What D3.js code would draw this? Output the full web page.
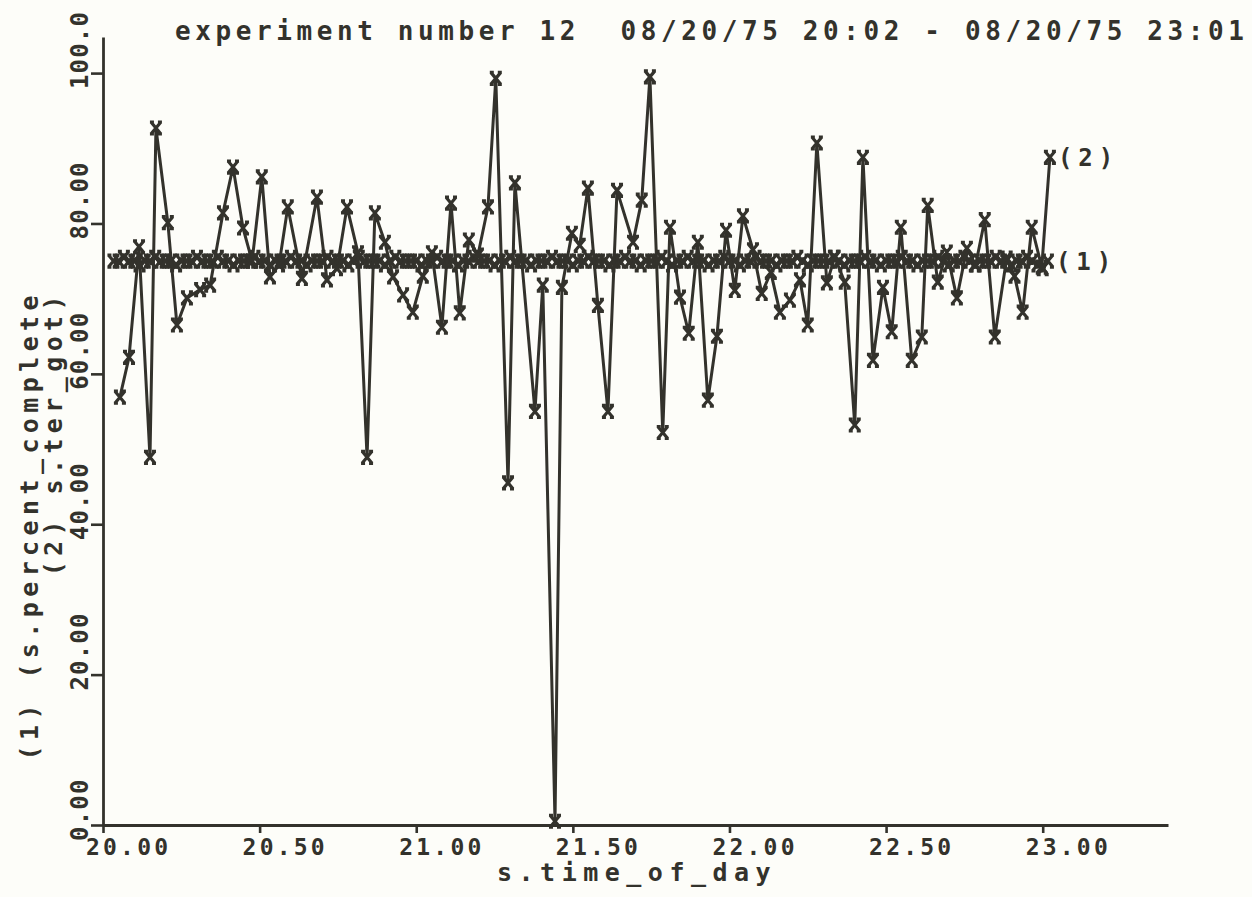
<!DOCTYPE html>
<html>
<head>
<meta charset="utf-8">
<script src="https://cdn.jsdelivr.net/npm/d3@7"></script>
<style>
    html, body { margin: 0; padding: 0; background: #fdfdf9; }
    svg { display: block; }
    text { font-family: "DejaVu Sans Mono", "Liberation Mono", monospace; font-weight: bold; fill: #33322c; white-space: pre; }
</style>
</head>
<body>
<div id="graph"></div>
<script>
!(function(){
    "use strict"

    var width = 1252;
    var height = 897;
    var ink = "#33322c";

    var titleText = "experiment number 12  08/20/75 20:02 - 08/20/75 23:01";
    var xTitle = "s.time_of_day";
    var yTitle1 = "(1) (s.percent_complete";
    var yTitle2 = "(2) s.ter_got)";

    var xTicks = [20, 20.5, 21, 21.5, 22, 22.5, 23];
    var xTickLabels = ["20.00", "20.50", "21.00", "21.50", "22.00", "22.50", "23.00"];
    var yTicks = [0, 20, 40, 60, 80, 100];
    var yTickLabels = ["0.00", "20.00", "40.00", "60.00", "80.00", "100.0"];

    // series 1: s.percent_complete, one reading a minute from 20:02 to 23:01
    var s1Start = 20 + 2 / 60;
    var s1Values = [
        75, 75, 75.5, 75, 75, 74.5, 75, 75, 75.5, 75,
        75, 75, 74.5, 75, 75, 75, 75.5, 75, 75, 75,
        75.5, 75, 75, 74.5, 75, 75, 75, 75.5, 75, 75,
        74.5, 75, 75, 75, 75.5, 75, 75, 74.5, 75, 75,
        75, 75.5, 75, 75, 75, 74.5, 75, 75.5, 75, 75,
        75, 75, 74.5, 75, 75.5, 75, 75, 75, 75, 74.5,
        75, 75, 75.5, 75, 75, 75, 74.5, 75, 75, 75.5,
        75, 75, 75, 74.5, 75, 75, 75.5, 75, 75, 75,
        74.5, 75, 75, 75, 75.5, 75, 75, 75, 74.5, 75,
        75, 75.5, 75, 75, 75, 74.5, 75, 75, 75.5, 75,
        75, 74.5, 75, 75, 75, 75.5, 75, 74.5, 75, 75,
        75.5, 75, 75, 75, 74.5, 75, 75, 75.5, 75, 75,
        74.5, 75, 75, 75.5, 75, 75, 75, 74.5, 75, 75,
        75, 75.5, 75, 74.5, 75, 75, 75, 75, 75.5, 75,
        74.5, 75, 75, 75, 75.5, 75, 75, 74.5, 75, 75,
        75, 75.5, 75, 75, 74.5, 75, 75, 75, 75.5, 75,
        74.5, 75, 75, 75.5, 75, 74.5, 75, 75, 75, 75.5,
        75, 75, 74.5, 75, 75, 75.5, 75, 74.5, 74, 75
    ];

    // series 2: s.ter_got
    var s2Times = [
        20.054, 20.083, 20.115, 20.150, 20.169, 20.207, 20.236, 20.268, 20.310, 20.342,
        20.383, 20.415, 20.447, 20.476, 20.507, 20.533, 20.562, 20.590, 20.635, 20.683,
        20.715, 20.747, 20.779, 20.814, 20.843, 20.868, 20.900, 20.926, 20.958, 20.989,
        21.021, 21.050, 21.082, 21.111, 21.139, 21.168, 21.197, 21.229, 21.254, 21.293,
        21.315, 21.379, 21.404, 21.443, 21.465, 21.497, 21.522, 21.548, 21.580, 21.612,
        21.641, 21.692, 21.720, 21.746, 21.787, 21.810, 21.842, 21.870, 21.899, 21.931,
        21.960, 21.989, 22.017, 22.043, 22.075, 22.103, 22.132, 22.161, 22.193, 22.225,
        22.250, 22.279, 22.311, 22.336, 22.368, 22.400, 22.426, 22.458, 22.490, 22.518,
        22.547, 22.582, 22.614, 22.633, 22.665, 22.694, 22.726, 22.758, 22.786, 22.815,
        22.847, 22.885, 22.910, 22.936, 22.965, 22.997, 23.023
    ];
    var s2Values = [
        56.9, 62.2, 76.9, 48.9, 92.7, 80.1, 66.5, 70.1, 71.2, 71.8,
        81.4, 87.5, 79.4, 75.0, 86.2, 72.9, 74.5, 82.2, 72.7, 83.5,
        72.5, 74.0, 82.2, 76.1, 48.9, 81.4, 77.5, 72.9, 70.5, 68.2,
        73.0, 76.1, 66.2, 82.7, 68.1, 77.8, 75.8, 82.2, 99.3, 45.5,
        85.4, 55.0, 71.8, 0.5, 71.5, 78.7, 77.1, 84.7, 69.1, 55.0,
        84.4, 77.5, 83.1, 99.5, 52.2, 79.5, 70.2, 65.4, 77.5, 56.5,
        65.0, 79.1, 71.1, 81.0, 76.5, 70.7, 73.5, 68.2, 69.8, 72.5,
        66.5, 90.7, 72.1, 75.5, 72.2, 53.2, 88.8, 61.8, 71.5, 65.6,
        79.5, 61.8, 64.9, 82.4, 72.2, 76.2, 70.1, 76.7, 74.5, 80.5,
        64.9, 75.4, 73.0, 68.2, 79.5, 74.2, 88.8
    ];

    var series1 = s1Values.map(function(v, i) { return { t: s1Start + i / 60, v: v }; });
    var series2 = s2Values.map(function(v, i) { return { t: s2Times[i], v: v }; });

    var svg = d3.select("#graph").append("svg")
        .attr("width", width)
        .attr("height", height);

    svg.append("rect").attr("width", width).attr("height", height).attr("fill", "#fdfdf9");

    // axis lines run past the last tick, as on the plotter output
    var x = d3.scaleLinear().domain([20, 23.4]).range([103, 1168]);
    var y = d3.scaleLinear().domain([0, 104.8]).range([825, 37]);

    var xAxis = svg.append("g")
        .attr("transform", "translate(0," + y(0) + ")")
        .call(d3.axisBottom(x).tickValues(xTicks).tickSize(8).tickSizeOuter(0).tickFormat(""));
    var yAxis = svg.append("g")
        .attr("transform", "translate(" + x(20) + ",0)")
        .call(d3.axisLeft(y).tickValues(yTicks).tickSize(12).tickSizeOuter(0).tickFormat(""));

    [xAxis, yAxis].forEach(function(g) {
        g.selectAll("path.domain").attr("stroke", ink).attr("stroke-width", 2.8);
        g.selectAll(".tick line").attr("stroke", ink).attr("stroke-width", 2.6);
    });

    // tick labels
    svg.append("g").selectAll("text")
        .data(xTicks)
        .enter().append("text")
        .attr("x", function(d) { return x(d) - 17; })
        .attr("y", 855)
        .style("font-size", "23px")
        .style("letter-spacing", "3.2px")
        .text(function(d, i) { return xTickLabels[i]; });

    svg.append("g").selectAll("text")
        .data(yTicks)
        .enter().append("text")
        .attr("transform", function(d) { return "translate(88," + (y(d) + 16) + ") rotate(-90)"; })
        .style("font-size", "24px")
        .style("letter-spacing", "1.2px")
        .text(function(d, i) { return yTickLabels[i]; });

    // titles
    svg.append("text")
        .attr("x", 175).attr("y", 40)
        .style("font-size", "26px")
        .style("letter-spacing", "4.6px")
        .text(titleText);

    svg.append("text")
        .attr("x", 497).attr("y", 881)
        .style("font-size", "25px")
        .style("letter-spacing", "6.5px")
        .text(xTitle);

    svg.append("text")
        .attr("transform", "translate(38,290) rotate(-90)")
        .attr("text-anchor", "end")
        .style("font-size", "25px")
        .style("letter-spacing", "5.4px")
        .text(yTitle1);

    svg.append("text")
        .attr("transform", "translate(62,290) rotate(-90)")
        .attr("text-anchor", "end")
        .style("font-size", "25px")
        .style("letter-spacing", "5.4px")
        .text(yTitle2);

    var line = d3.line()
        .x(function(d) { return x(d.t); })
        .y(function(d) { return y(d.v); });

    // plotter "x" marker with little feet top and bottom
    var marker = "M-5,-6L5,6M5,-6L-5,6M-6,-6H-2M2,-6H6M-6,6H-2M2,6H6";

    function drawSeries(data, label) {
        var g = svg.append("g");
        g.append("path")
            .datum(data)
            .attr("d", line)
            .attr("fill", "none")
            .attr("stroke", ink)
            .attr("stroke-width", 3)
            .attr("stroke-linejoin", "round");
        g.selectAll("path.mark")
            .data(data)
            .enter().append("path")
            .attr("class", "mark")
            .attr("d", marker)
            .attr("transform", function(d) { return "translate(" + x(d.t) + "," + y(d.v) + ")"; })
            .attr("fill", "none")
            .attr("stroke", ink)
            .attr("stroke-width", 3.2);
        var last = data[data.length - 1];
        g.append("text")
            .attr("x", x(last.t) + 8)
            .attr("y", y(last.v) + 9)
            .style("font-size", "24px")
            .style("letter-spacing", "6px")
            .text(label);
    }

    drawSeries(series1, "(1)");
    drawSeries(series2, "(2)");

}());
</script>
</body>
</html>
